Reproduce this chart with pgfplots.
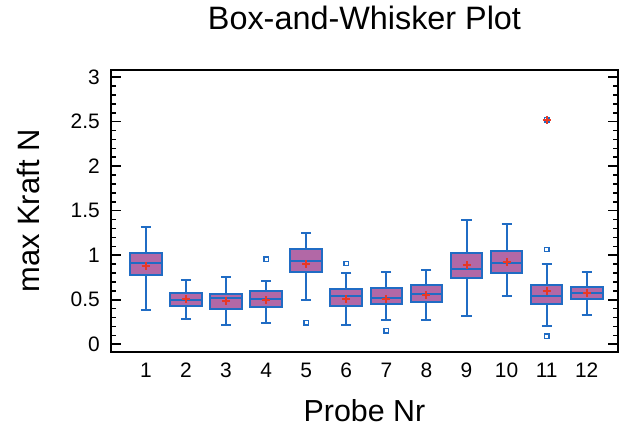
\documentclass[border=0pt]{standalone}
\usepackage{fontspec}
\setmainfont{Liberation Sans}
\usepackage{pgfplots}
\pgfplotsset{compat=1.18}
\usepgfplotslibrary{statistics}

\definecolor{boxfill}{RGB}{178,104,166}
\definecolor{boxedge}{RGB}{32,108,196}
\definecolor{meanred}{RGB}{232,56,36}

\pgfplotsset{bx/.style={draw=boxedge, fill=boxfill, line width=2bp,
	boxplot/every box/.style={line width=2bp},
	boxplot/every whisker/.style={line width=2bp},
	boxplot/every median/.style={line width=2bp}}}

\begin{document}
\begin{tikzpicture}
	\begin{axis}[
		scale only axis,
		width=507bp, height=282bp,
		xmin=0.13, xmax=12.78,
		ymin=-0.087, ymax=3.08,
		xtick={1,2,...,12},
		ytick={0,0.5,...,3},
		minor y tick num=4,
		tick align=inside,
		ytick pos=both, yticklabel pos=left,
		major x tick style={draw=none},
		major tick length=10bp, minor tick length=5.5bp,
		every tick/.style={line width=1.6bp, black},
		axis line style={line width=2bp},
		/pgf/number format/assume math mode=true,
		ticklabel style={font=\fontsize{21}{24}\selectfont, inner sep=0pt},
		yticklabel style={xshift=-11bp},
		xticklabel style={yshift=-11bp},
		title={Box-and-Whisker Plot},
		title style={font=\fontsize{32.5}{36}\selectfont, inner sep=0pt, at={(axis description cs:0.5,1)}, anchor=base, yshift=35bp},
		xlabel={Probe Nr},
		xlabel style={font=\fontsize{30.5}{36}\selectfont, inner sep=0pt, at={(axis description cs:0.5,0)}, anchor=base, yshift=-69bp},
		ylabel={max Kraft N},
		ylabel style={font=\fontsize{31}{36}\selectfont, inner sep=0pt, at={(axis description cs:0,0.5)}, anchor=base, yshift=71bp},
		boxplot/draw direction=y,
		boxplot/box extend=0.79,
		boxplot/whisker extend=0.25,
		]
		% boxes: lower whisker, Q1, median, Q3, upper whisker
		\addplot[bx, boxplot prepared={draw position=1, lower whisker=0.38, lower quartile=0.78, median=0.91, upper quartile=1.03, upper whisker=1.32}] coordinates {};
		\addplot[bx, boxplot prepared={draw position=2, lower whisker=0.28, lower quartile=0.43, median=0.495, upper quartile=0.58, upper whisker=0.72}] coordinates {};
		\addplot[bx, boxplot prepared={draw position=3, lower whisker=0.22, lower quartile=0.40, median=0.525, upper quartile=0.56, upper whisker=0.76}] coordinates {};
		\addplot[bx, boxplot prepared={draw position=4, lower whisker=0.24, lower quartile=0.42, median=0.51, upper quartile=0.60, upper whisker=0.71}] coordinates {};
		\addplot[bx, boxplot prepared={draw position=5, lower whisker=0.495, lower quartile=0.81, median=0.94, upper quartile=1.065, upper whisker=1.245}] coordinates {};
		\addplot[bx, boxplot prepared={draw position=6, lower whisker=0.22, lower quartile=0.43, median=0.547, upper quartile=0.615, upper whisker=0.795}] coordinates {};
		\addplot[bx, boxplot prepared={draw position=7, lower whisker=0.27, lower quartile=0.45, median=0.525, upper quartile=0.63, upper whisker=0.81}] coordinates {};
		\addplot[bx, boxplot prepared={draw position=8, lower whisker=0.27, lower quartile=0.47, median=0.56, upper quartile=0.67, upper whisker=0.83}] coordinates {};
		\addplot[bx, boxplot prepared={draw position=9, lower whisker=0.32, lower quartile=0.74, median=0.85, upper quartile=1.03, upper whisker=1.39}] coordinates {};
		\addplot[bx, boxplot prepared={draw position=10, lower whisker=0.54, lower quartile=0.795, median=0.907, upper quartile=1.046, upper whisker=1.35}] coordinates {};
		\addplot[bx, boxplot prepared={draw position=11, lower whisker=0.20, lower quartile=0.45, median=0.54, upper quartile=0.664, upper whisker=0.90}] coordinates {};
		\addplot[bx, boxplot prepared={draw position=12, lower whisker=0.33, lower quartile=0.51, median=0.57, upper quartile=0.645, upper whisker=0.81}] coordinates {};

		% outliers
		\addplot[only marks, mark=square, mark size=2.2bp, line width=1.4bp, boxedge] coordinates {
			(4,0.956) (5,0.24) (6,0.907) (7,0.15) (11,1.065) (11,0.09) (11,2.52)
		};

		% means
		\addplot[only marks, mark=+, mark size=4bp, line width=2bp, meanred] coordinates {
			(1,0.88) (2,0.51) (3,0.49) (4,0.495) (5,0.90) (6,0.51) (7,0.51) (8,0.55) (9,0.885) (10,0.92) (11,0.60) (12,0.58) (11,2.52)
		};
	\end{axis}
	\pgfresetboundingbox
	\path[use as bounding box] ([xshift=-111bp,yshift=-73bp]current axis.south west) rectangle ([xshift=1bp,yshift=70bp]current axis.north east);
\end{tikzpicture}
\end{document}
